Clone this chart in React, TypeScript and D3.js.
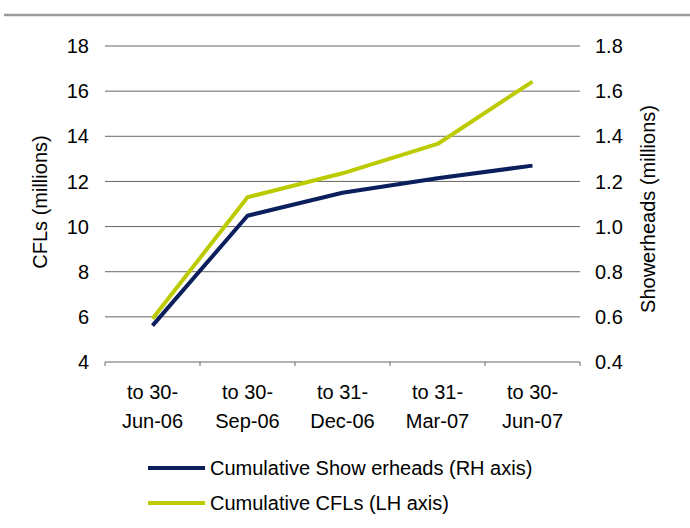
import React from "react";
import * as d3 from "d3";

const categories = [
  ["to 30-", "Jun-06"],
  ["to 30-", "Sep-06"],
  ["to 31-", "Dec-06"],
  ["to 31-", "Mar-07"],
  ["to 30-", "Jun-07"],
];
const showerheads = [0.561, 1.048, 1.15, 1.214, 1.27];
const cfls = [5.92, 11.3, 12.36, 13.66, 16.42];
const leftTicks = [4, 6, 8, 10, 12, 14, 16, 18];
const rightTicks = [0.4, 0.6, 0.8, 1.0, 1.2, 1.4, 1.6, 1.8];

const W = 690;
const H = 528;
const NAVY = "#0b1f5c";
const LIME = "#bccb00";
const FONT = "'Liberation Sans', Arial, sans-serif";
const FS = 20;

export default function App() {
  const x0 = 105, x1 = 580, yTop = 46, yBot = 362;
  const xBand = d3.scaleBand<number>().domain(d3.range(categories.length)).range([x0, x1]).padding(0);
  const xc = (i: number) => (xBand(i) as number) + xBand.bandwidth() / 2;
  const yL = d3.scaleLinear().domain([4, 18]).range([yBot, yTop]);
  const yR = d3.scaleLinear().domain([0.4, 1.8]).range([yBot, yTop]);
  const lineL = d3.line<number>().x((_, i) => xc(i)).y((d) => yL(d));
  const lineR = d3.line<number>().x((_, i) => xc(i)).y((d) => yR(d));

  return (
    <svg width={W} height={H} style={{ position: "absolute", left: 0, top: 0, display: "block" }} fontFamily={FONT}>
      <rect width={W} height={H} fill="#fff" />
      <line x1={4} x2={W} y1={15} y2={15} stroke="#9a9a9a" strokeWidth={2.5} />
      {leftTicks.slice(1).map((t) => (
        <line key={t} x1={x0} x2={x1} y1={yL(t)} y2={yL(t)} stroke="#666" strokeWidth={1} />
      ))}
      <line x1={x0} x2={x1} y1={yBot} y2={yBot} stroke="#666" strokeWidth={1} />
      {d3.range(categories.length + 1).map((i) => {
        const xx = i < categories.length ? (xBand(i) as number) : x1;
        return <line key={i} x1={xx} x2={xx} y1={yBot} y2={yBot + 4} stroke="#666" strokeWidth={1} />;
      })}
      {leftTicks.map((t) => (
        <text key={t} x={89} y={yL(t)} dy="0.36em" textAnchor="end" fontSize={FS} fill="#000">
          {t}
        </text>
      ))}
      {rightTicks.map((t) => (
        <text key={t} x={595} y={yR(t)} dy="0.36em" textAnchor="start" fontSize={FS} fill="#000">
          {t.toFixed(1)}
        </text>
      ))}
      {categories.map((c, i) => (
        <g key={i}>
          <text x={xc(i)} y={392} dy="0.36em" textAnchor="middle" fontSize={FS}>{c[0]}</text>
          <text x={xc(i)} y={421} dy="0.36em" textAnchor="middle" fontSize={FS}>{c[1]}</text>
        </g>
      ))}
      <text transform={`translate(40,202) rotate(-90)`} textAnchor="middle" dy="0.36em" fontSize={FS}>
        CFLs (millions)
      </text>
      <text transform={`translate(648,209) rotate(-90)`} textAnchor="middle" dy="0.36em" fontSize={FS}>
        Showerheads (millions)
      </text>
      <path d={lineR(showerheads) || ""} fill="none" stroke={NAVY} strokeWidth={4} strokeLinejoin="round" />
      <path d={lineL(cfls) || ""} fill="none" stroke={LIME} strokeWidth={4} strokeLinejoin="round" />
      <line x1={148} x2={205} y1={468} y2={468} stroke={NAVY} strokeWidth={4} />
      <text x={210} y={468} dy="0.36em" fontSize={FS}>Cumulative Show erheads (RH axis)</text>
      <line x1={148} x2={205} y1={503} y2={503} stroke={LIME} strokeWidth={4} />
      <text x={210} y={503} dy="0.36em" fontSize={FS}>Cumulative CFLs (LH axis)</text>
    </svg>
  );
}
